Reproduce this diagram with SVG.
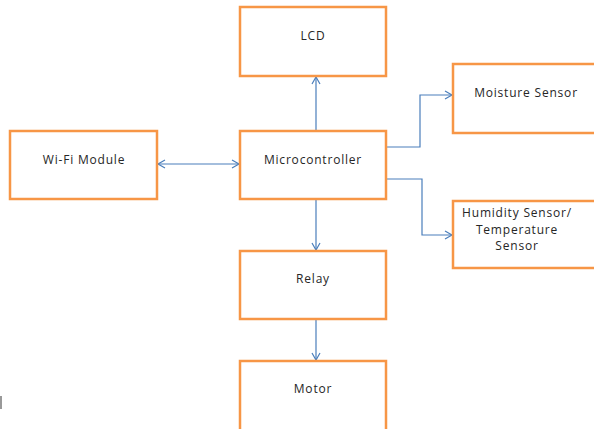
<svg xmlns="http://www.w3.org/2000/svg" width="594" height="429" viewBox="0 0 594 429">
<defs>
<style>
.box{fill:#fff;stroke:#F79646;stroke-width:2.5}
.t{font-family:"Open Sans","Liberation Sans",sans-serif;font-size:12px;letter-spacing:0.8px;fill:#262626;text-anchor:middle}
.c{fill:none;stroke:#4A7EBB;stroke-width:1.2}
</style>
<marker id="a" markerWidth="10" markerHeight="10" refX="8" refY="5" orient="auto" markerUnits="userSpaceOnUse">
<path d="M1,1 L8,5 L1,9" fill="none" stroke="#4A7EBB" stroke-width="1.2"/>
</marker>
<marker id="s" markerWidth="10" markerHeight="10" refX="2" refY="5" orient="auto" markerUnits="userSpaceOnUse">
<path d="M9,1 L2,5 L9,9" fill="none" stroke="#4A7EBB" stroke-width="1.2"/>
</marker>
</defs>
<rect width="594" height="429" fill="#fff"/>
<rect x="0" y="396" width="2" height="13" fill="#999"/>
<g id="connectors">
<line class="c" x1="316" y1="131" x2="316" y2="77" marker-end="url(#a)"/>
<line class="c" x1="158" y1="164" x2="239" y2="164" marker-start="url(#s)" marker-end="url(#a)"/>
<polyline class="c" points="386,147 420,147 420,95 452,95" marker-end="url(#a)"/>
<polyline class="c" points="386,179 422,179 422,235 452,235" marker-end="url(#a)"/>
<line class="c" x1="316" y1="199" x2="316" y2="250" marker-end="url(#a)"/>
<line class="c" x1="316" y1="319" x2="316" y2="360" marker-end="url(#a)"/>
</g>
<g id="lcd"><rect class="box" x="240" y="7" width="146" height="69"/><text class="t" x="313" y="40">LCD</text></g>
<g id="wifi"><rect class="box" x="10" y="131" width="147" height="68"/><text class="t" x="84" y="164">Wi-Fi Module</text></g>
<g id="mcu"><rect class="box" x="240" y="131" width="146" height="68"/><text class="t" x="313" y="164">Microcontroller</text></g>
<g id="moisture"><rect class="box" x="453" y="64" width="150" height="69"/><text class="t" x="526" y="97">Moisture Sensor</text></g>
<g id="humidity"><rect class="box" x="453" y="201" width="150" height="67"/><text class="t" x="517" y="217">Humidity Sensor/</text><text class="t" x="517" y="234">Temperature</text><text class="t" x="517" y="250">Sensor</text></g>
<g id="relay"><rect class="box" x="240" y="251" width="146" height="68"/><text class="t" x="313" y="283">Relay</text></g>
<g id="motor"><rect class="box" x="240" y="361" width="146" height="80"/><text class="t" x="313" y="393">Motor</text></g>
</svg>
